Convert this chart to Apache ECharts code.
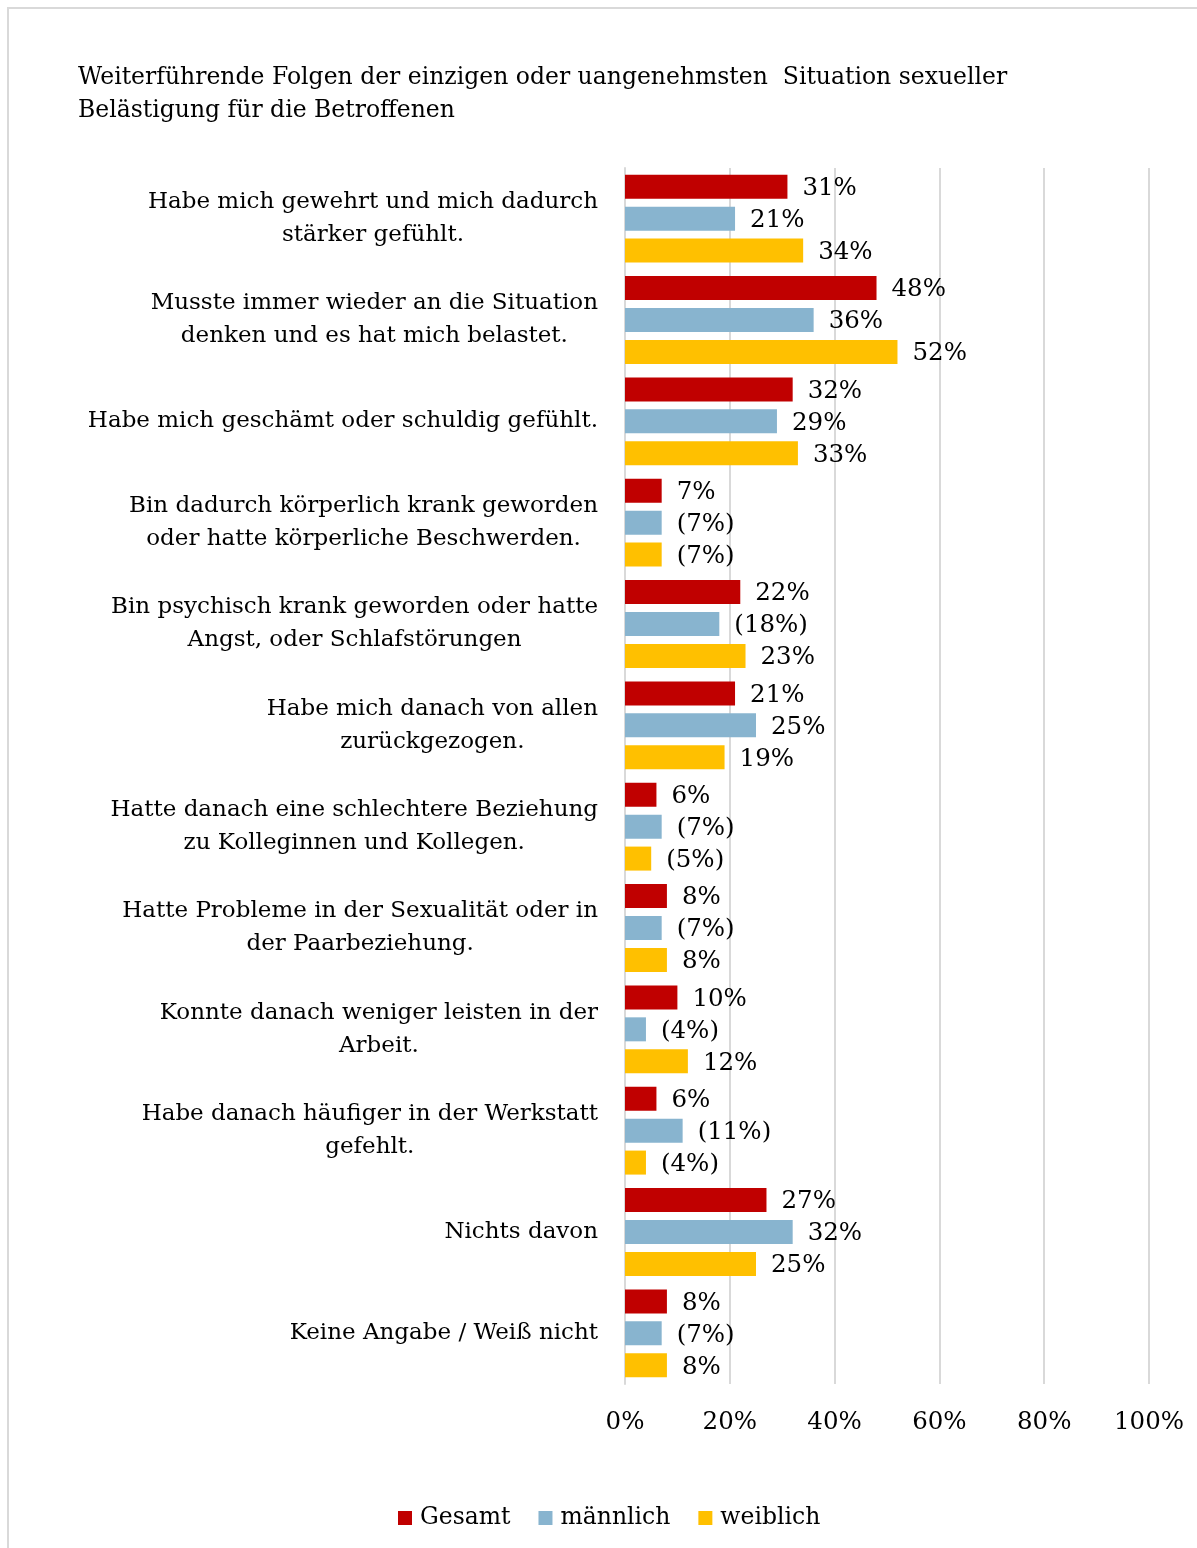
<!DOCTYPE html>
<html>
<head>
<meta charset="utf-8">
<script src="https://cdn.jsdelivr.net/npm/echarts@6/dist/echarts.min.js"></script>
<style>
html,body{margin:0;padding:0;background:#fff;overflow:hidden;}
#frame{position:absolute;left:7px;top:7px;width:1300px;height:1700px;border:2px solid #D9D9D9;box-sizing:border-box;}
#chart{position:absolute;left:0;top:0;width:1197px;height:1548px;}
</style>
</head>
<body>
<div id="frame"></div>
<div id="chart"></div>
<script>
const titleText = 'Weiterführende Folgen der einzigen oder uangenehmsten  Situation sexueller\nBelästigung für die Betroffenen';
const categories = [
  'Habe mich gewehrt und mich dadurch\nstärker gefühlt.',
  'Musste immer wieder an die Situation\ndenken und es hat mich belastet.',
  'Habe mich geschämt oder schuldig gefühlt.',
  'Bin dadurch körperlich krank geworden\noder hatte körperliche Beschwerden.',
  'Bin psychisch krank geworden oder hatte\nAngst, oder Schlafstörungen',
  'Habe mich danach von allen\nzurückgezogen.',
  'Hatte danach eine schlechtere Beziehung\nzu Kolleginnen und Kollegen.',
  'Hatte Probleme in der Sexualität oder in\nder Paarbeziehung.',
  'Konnte danach weniger leisten in der\nArbeit.',
  'Habe danach häufiger in der Werkstatt\ngefehlt.',
  'Nichts davon',
  'Keine Angabe / Weiß nicht'
];
const seriesNames = ['Gesamt', 'männlich', 'weiblich'];
const gesamt   = [31, 48, 32, 7, 22, 21, 6, 8, 10, 6, 27, 8];
const maennlich = [21, 36, 29, 7, 18, 25, 7, 7, 4, 11, 32, 7];
const weiblich = [34, 52, 33, 7, 23, 19, 5, 8, 12, 4, 25, 8];
// values shown in brackets (small sample)
const gesamtBracket   = [0,0,0,0,0,0,0,0,0,0,0,0];
const maennlichBracket = [0,0,0,1,1,0,1,1,1,1,0,1];
const weiblichBracket = [0,0,0,1,0,0,1,0,0,1,0,0];
const xTicks = [0, 20, 40, 60, 80, 100];

const FONT = 'DejaVu Serif';
const FS_TEXT = 23;
const FS_TITLE = 23.5;
const FS_NUM = 24.5;
const colors = ['#C00000', '#88B4CF', '#FFC000'];

const chart = echarts.init(document.getElementById('chart'), null, {renderer: 'canvas'});

function mkSeries(name, data, br, color) {
  return {
    name: name,
    type: 'bar',
    data: data,
    barWidth: 24,
    barGap: '33%',
    itemStyle: {color: color},
    label: {
      show: true,
      position: 'right',
      distance: 15,
      fontFamily: FONT,
      fontSize: FS_NUM,
      color: '#000',
      offset: [0, 2],
      formatter: p => br[p.dataIndex] ? '(' + p.value + '%)' : p.value + '%'
    }
  };
}

chart.setOption({
  animation: false,
  backgroundColor: 'transparent',
  textStyle: {fontFamily: FONT},
  title: {
    text: titleText,
    left: 78,
    top: 61,
    padding: 0,
    textStyle: {fontFamily: FONT, fontSize: FS_TITLE, fontWeight: 'normal', color: '#000', lineHeight: 33}
  },
  legend: {
    bottom: 13,
    left: 393,
    itemWidth: 14,
    itemHeight: 14,
    itemGap: 28,
    icon: 'rect',
    data: seriesNames,
    textStyle: {fontFamily: FONT, fontSize: FS_TITLE, color: '#000', padding: [0, 0, 0, 3]}
  },
  grid: {left: 625, right: 48, top: 168, bottom: 164, containLabel: false},
  xAxis: {
    type: 'value',
    min: xTicks[0],
    max: xTicks[xTicks.length - 1],
    interval: 20,
    axisLine: {show: false},
    axisTick: {show: false},
    splitLine: {show: true, lineStyle: {color: '#D9D9D9', width: 2}},
    axisLabel: {fontFamily: FONT, fontSize: FS_NUM, color: '#000', margin: 26, formatter: '{value}%'}
  },
  yAxis: {
    type: 'category',
    inverse: true,
    data: categories,
    axisLine: {show: true, lineStyle: {color: '#D9D9D9', width: 2}},
    axisTick: {show: false},
    axisLabel: {
      margin: 27,
      formatter: v => v.split('\n').map(s => '{c|' + s + '}').join('\n'),
      rich: {c: {fontFamily: FONT, fontSize: FS_TEXT, color: '#000', lineHeight: 33, align: 'center'}}
    }
  },
  series: [
    mkSeries(seriesNames[0], gesamt, gesamtBracket, colors[0]),
    mkSeries(seriesNames[1], maennlich, maennlichBracket, colors[1]),
    mkSeries(seriesNames[2], weiblich, weiblichBracket, colors[2])
  ]
});
</script>
</body>
</html>
